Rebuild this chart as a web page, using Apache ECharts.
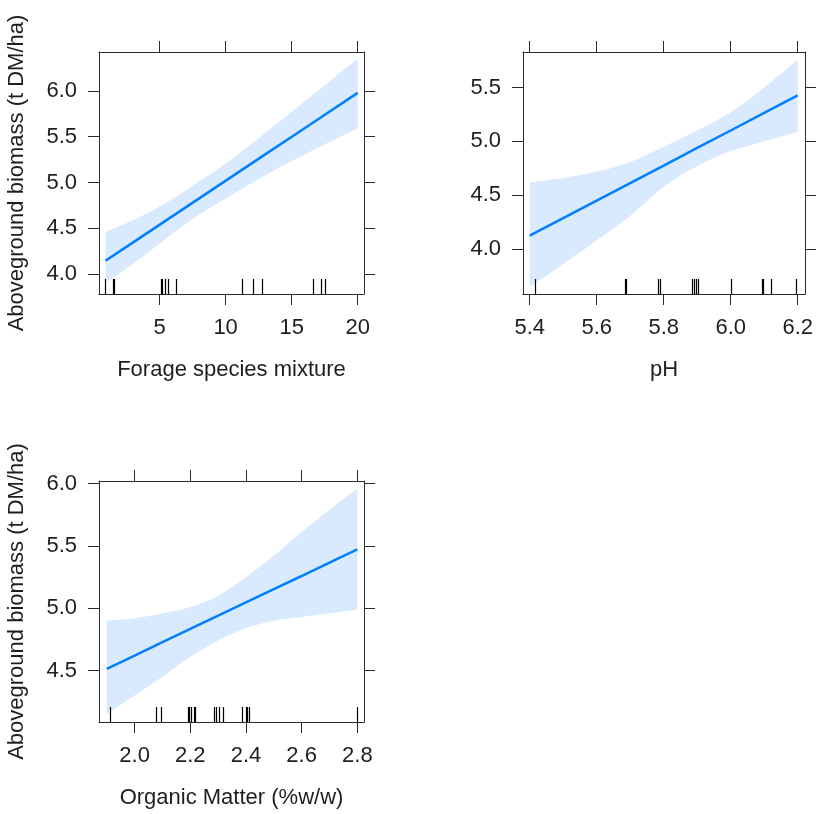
<!DOCTYPE html>
<html>
<head>
<meta charset="utf-8">
<script src="https://cdn.jsdelivr.net/npm/echarts@6/dist/echarts.min.js"></script>
<style>
html,body{margin:0;padding:0;background:#fff;}
#chart{width:816px;height:814px;}
</style>
</head>
<body>
<div id="chart"></div>
<script>
// ---------- data ----------
const yTitle = 'Aboveground biomass (t DM/ha)';

// Panel 1: Forage species mixture
const p1Name = 'Forage species mixture';
const p1X     = [0.9, 3, 5.5, 8, 10.5, 13, 15.5, 18, 20];
const p1Fit   = [4.146, 4.347, 4.587, 4.827, 5.067, 5.307, 5.547, 5.787, 5.979];
const p1Lower = [3.91, 4.11, 4.39, 4.65, 4.87, 5.08, 5.27, 5.45, 5.59];
const p1Upper = [4.46, 4.59, 4.78, 5.01, 5.26, 5.54, 5.83, 6.12, 6.35];
const p1Rug   = [0.89, 1.47, 1.52, 5.08, 5.2, 5.41, 5.66, 6.26, 11.26, 12.11, 12.77, 16.58, 17.21, 17.56];
const p1XTicks = [5, 10, 15, 20];
const p1YTicks = [4.0, 4.5, 5.0, 5.5, 6.0];

// Panel 2: pH
const p2Name = 'pH';
const p2X     = [5.4, 5.5, 5.6, 5.7, 5.8, 5.9, 6.0, 6.1, 6.2];
const p2Fit   = [4.126, 4.289, 4.451, 4.614, 4.776, 4.939, 5.101, 5.264, 5.426];
const p2Lower = [3.65, 3.86, 4.08, 4.31, 4.58, 4.77, 4.91, 5.00, 5.09];
const p2Upper = [4.62, 4.66, 4.72, 4.81, 4.95, 5.10, 5.27, 5.50, 5.76];
const p2Rug   = [5.416, 5.683, 5.686, 5.783, 5.789, 5.884, 5.890, 5.896, 5.903, 6.001, 6.092, 6.095, 6.120, 6.194];
const p2XTicks = [5.4, 5.6, 5.8, 6.0, 6.2];
const p2YTicks = [4.0, 4.5, 5.0, 5.5];

// Panel 3: Organic Matter
const p3Name = 'Organic Matter (%w/w)';
const p3X     = [1.9, 2.0, 2.1, 2.2, 2.3, 2.4, 2.5, 2.6, 2.7, 2.8];
const p3Fit   = [4.514, 4.620, 4.727, 4.833, 4.940, 5.046, 5.152, 5.258, 5.365, 5.471];
const p3Lower = [4.15, 4.30, 4.45, 4.61, 4.74, 4.84, 4.90, 4.93, 4.96, 4.99];
const p3Upper = [4.90, 4.92, 4.96, 5.01, 5.10, 5.25, 5.42, 5.61, 5.79, 5.96];
const p3Rug   = [1.910, 2.078, 2.093, 2.190, 2.196, 2.203, 2.213, 2.216, 2.286, 2.292, 2.303, 2.317, 2.387, 2.401, 2.404, 2.410, 2.800];
const p3XTicks = [2.0, 2.2, 2.4, 2.6, 2.8];
const p3YTicks = [4.5, 5.0, 5.5, 6.0];

// ---------- layout / style ----------
const FONT = "'Liberation Sans', Arial, sans-serif";
const TXT = '#1e1e1e';
const FRAME = '#2b2b2b';
const LINE = '#0080ff';
const BAND = '#d9eaff';
const FS = 22;

const panels = [
  {name: p1Name, yName: yTitle, x: p1X, fit: p1Fit, lo: p1Lower, hi: p1Upper, rug: p1Rug,
   xt: p1XTicks, yt: p1YTicks, xFmt: v => String(v), xr: [0.41, 20.48], yr: [3.783, 6.425],
   grid: {left: 99, right: 452, top: 52, bottom: 520}},
  {name: p2Name, yName: '', x: p2X, fit: p2Fit, lo: p2Lower, hi: p2Upper, rug: p2Rug,
   xt: p2XTicks, yt: p2YTicks, xFmt: v => v.toFixed(1), xr: [5.380, 6.222], yr: [3.585, 5.829],
   grid: {left: 523, right: 9, top: 52, bottom: 520}},
  {name: p3Name, yName: yTitle, x: p3X, fit: p3Fit, lo: p3Lower, hi: p3Upper, rug: p3Rug,
   xt: p3XTicks, yt: p3YTicks, xFmt: v => v.toFixed(1), xr: [1.872, 2.824], yr: [4.087, 6.02],
   grid: {left: 99, right: 452, top: 481, bottom: 92}}
];

// smooth curve through points (Catmull-Rom -> cubic Bezier), appended to a path string
function splinePath(pts, start) {
  let d = start ? 'M' + pts[0][0] + ' ' + pts[0][1] : 'L' + pts[0][0] + ' ' + pts[0][1];
  for (let i = 0; i < pts.length - 1; i++) {
    const p0 = pts[Math.max(i - 1, 0)], p1 = pts[i], p2 = pts[i + 1], p3 = pts[Math.min(i + 2, pts.length - 1)];
    const c1 = [p1[0] + (p2[0] - p0[0]) / 6, p1[1] + (p2[1] - p0[1]) / 6];
    const c2 = [p2[0] - (p3[0] - p1[0]) / 6, p2[1] - (p3[1] - p1[1]) / 6];
    d += ' C' + c1[0] + ' ' + c1[1] + ' ' + c2[0] + ' ' + c2[1] + ' ' + p2[0] + ' ' + p2[1];
  }
  return d;
}

const grid = [], xAxis = [], yAxis = [], series = [];
const tickStyle = {show: true, inside: false, length: 11, lineStyle: {color: FRAME, width: 1}};
const lineStyle = {show: true, onZero: false, lineStyle: {color: FRAME, width: 1}};

panels.forEach((p, i) => {
  grid.push(Object.assign({containLabel: false}, p.grid));
  const xb = xAxis.length;
  xAxis.push({
    type: 'value', gridIndex: i, position: 'bottom', min: p.xr[0], max: p.xr[1],
    name: p.name, nameLocation: 'middle', nameGap: 65,
    nameTextStyle: {fontFamily: FONT, fontSize: FS, color: TXT},
    axisLine: lineStyle, axisTick: Object.assign({customValues: p.xt}, tickStyle),
    axisLabel: {customValues: p.xt, formatter: p.xFmt, margin: 23, fontFamily: FONT, fontSize: FS, color: TXT},
    splitLine: {show: false}
  });
  xAxis.push({
    type: 'value', gridIndex: i, position: 'top', min: p.xr[0], max: p.xr[1],
    axisLine: lineStyle, axisTick: Object.assign({customValues: p.xt}, tickStyle),
    axisLabel: {show: false}, splitLine: {show: false}
  });
  const yl = yAxis.length;
  yAxis.push({
    type: 'value', gridIndex: i, position: 'left', min: p.yr[0], max: p.yr[1],
    name: p.yName, nameLocation: 'middle', nameGap: 71,
    nameTextStyle: {fontFamily: FONT, fontSize: FS, color: TXT},
    axisLine: lineStyle, axisTick: Object.assign({customValues: p.yt}, tickStyle),
    axisLabel: {customValues: p.yt, formatter: v => v.toFixed(1), margin: 22, fontFamily: FONT, fontSize: FS, color: TXT},
    splitLine: {show: false}
  });
  yAxis.push({
    type: 'value', gridIndex: i, position: 'right', min: p.yr[0], max: p.yr[1],
    axisLine: lineStyle, axisTick: Object.assign({customValues: p.yt}, tickStyle),
    axisLabel: {show: false}, splitLine: {show: false}
  });

  // confidence band
  series.push({
    type: 'custom', xAxisIndex: xb, yAxisIndex: yl, z: 1, silent: true,
    data: [[p.x[0], p.lo[0]]],
    renderItem: (params, api) => {
      const up = p.x.map((x, k) => api.coord([x, p.hi[k]]));
      const lo = p.x.map((x, k) => api.coord([x, p.lo[k]])).reverse();
      const d = splinePath(up, true) + ' ' + splinePath(lo, false) + ' Z';
      return {type: 'path', shape: {pathData: d}, style: {fill: BAND}};
    }
  });
  // fitted line
  series.push({
    type: 'line', xAxisIndex: xb, yAxisIndex: yl, z: 3, silent: true,
    data: p.x.map((x, k) => [x, p.fit[k]]),
    showSymbol: false, symbol: 'none',
    lineStyle: {color: LINE, width: 2.5}
  });
  // rug
  series.push({
    type: 'custom', xAxisIndex: xb, yAxisIndex: yl, z: 4, silent: true,
    data: p.rug.map(v => [v, p.yr[0]]),
    renderItem: (params, api) => {
      const c = api.coord([api.value(0), api.value(1)]);
      const x = Math.round(c[0]) + 0.5;
      return {type: 'line', shape: {x1: x, y1: c[1], x2: x, y2: c[1] - 15},
              style: {stroke: '#000', lineWidth: 1.2}};
    }
  });
});

const chart = echarts.init(document.getElementById('chart'), null, {renderer: 'canvas'});
chart.setOption({
  backgroundColor: '#fff',
  animation: false,
  grid, xAxis, yAxis, series
});
</script>
</body>
</html>
